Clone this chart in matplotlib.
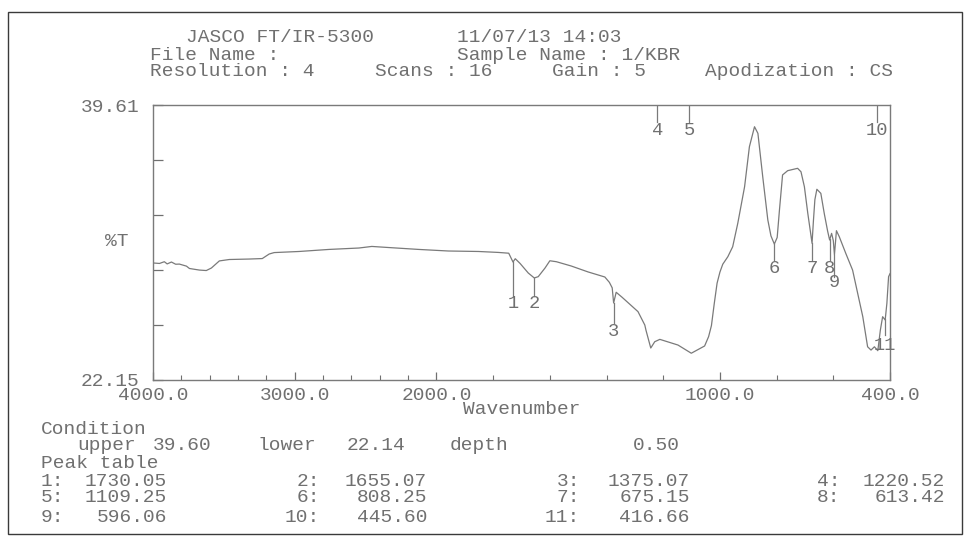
import numpy as np
import matplotlib.pyplot as plt
from matplotlib.patches import Rectangle

plt.rcParams['font.family'] = ['Liberation Mono', 'DejaVu Sans Mono']

# spectrum (cm-1, %T)
wavenumber = np.array([
    4000, 3954, 3920, 3900, 3870, 3840, 3814, 3764, 3743, 3673, 3624, 3588,
    3532, 3462, 3321, 3229, 3180, 3145, 2969, 2758, 2547, 2456, 2336, 2125,
    1958, 1852, 1782, 1745, 1730, 1722, 1705, 1676, 1655, 1641, 1617, 1600,
    1577, 1525, 1465, 1406, 1390, 1380, 1375, 1366, 1345, 1289, 1265, 1261,
    1244, 1230, 1212, 1148, 1101, 1054, 1040, 1030, 1020, 1010, 1000, 990,
    972, 955, 937, 913, 896, 878, 866, 849, 831, 820, 808, 798,
    790, 779, 761, 726, 714, 702, 690, 681, 675, 670, 665, 658,
    644, 632, 620, 613, 606, 600, 596, 589, 579, 556, 532, 514,
    496, 479, 467, 455, 443, 434, 426, 417, 411, 405, 400])
transmittance = np.array([
    29.58, 29.55, 29.66, 29.52, 29.64, 29.50, 29.51, 29.38, 29.23, 29.13, 29.10, 29.26,
    29.71, 29.80, 29.83, 29.86, 30.15, 30.24, 30.31, 30.44, 30.53, 30.63, 30.56, 30.44,
    30.34, 30.31, 30.25, 30.20, 29.64, 29.85, 29.55, 28.94, 28.63, 28.71, 29.26, 29.72,
    29.66, 29.39, 29.01, 28.69, 28.35, 28.00, 27.04, 27.72, 27.40, 26.49, 25.64, 25.32,
    24.18, 24.58, 24.73, 24.37, 23.85, 24.31, 24.90, 25.60, 27.00, 28.30, 29.00, 29.50,
    29.98, 30.61, 32.10, 34.42, 36.96, 38.23, 37.81, 35.06, 32.31, 31.30, 30.78, 31.20,
    32.94, 35.17, 35.44, 35.59, 35.37, 34.42, 32.73, 31.60, 30.83, 32.30, 33.60, 34.26,
    34.00, 32.73, 31.60, 31.04, 31.46, 31.00, 30.09, 31.63, 31.25, 30.19, 29.13, 27.65,
    26.17, 24.26, 24.05, 24.26, 24.01, 25.32, 26.17, 25.96, 27.02, 28.71, 28.90])

peak_no = [1, 2, 3, 4, 5, 6, 7, 8, 9, 10, 11]
peak_wn = [1730.05, 1655.07, 1375.07, 1220.52, 1109.25, 808.25,
           675.15, 613.42, 596.06, 445.60, 416.66]
top_peaks = [4, 5, 10]

y_top, y_bottom = 39.61, 22.15
upper, lower, depth = 39.60, 22.14, 0.50

header = [
    ('JASCO FT/IR-5300', 186, 37), ('11/07/13 14:03', 457, 37),
    ('File Name :', 150, 55), ('Sample Name : 1/KBR', 457, 55),
    ('Resolution : 4', 150, 72), ('Scans : 16', 375, 72),
    ('Gain : 5', 552, 72), ('Apodization : CS', 705, 72),
]

# where the peak numbers sit under each dip (line end, label centre), in %T
label_pos = {1: (27.48, 26.98), 2: (27.48, 26.98), 3: (25.77, 25.26),
             6: (29.77, 29.26), 7: (29.77, 29.26), 8: (29.77, 29.26),
             9: (28.69, 28.31), 11: (25.0, 24.37)}

ink = '#707070'
W, H = 964, 539


def fwd(x):
    x = np.asarray(x, dtype=float)
    return np.where(x > 2000, 2000 + (x - 2000) / 2, x)


def inv(u):
    u = np.asarray(u, dtype=float)
    return np.where(u > 2000, 2000 + (u - 2000) * 2, u)


def ftext(s, x, y, ha='left', size=14):
    fig.text(x / W, 1 - y / H, s, ha=ha, va='center', color=ink, fontsize=size)


fig = plt.figure(figsize=(W / 100, H / 100), dpi=100)
ax = fig.add_axes([153 / W, 1 - 380 / H, (890 - 153) / W, 275 / H])
ax.set_xscale('function', functions=(fwd, inv))
ax.plot(wavenumber, transmittance, color='#7a7a7a', lw=0.9)
ax.set_xlim(4000, 400)
ax.set_ylim(y_bottom, y_top)

ax.set_xticks([4000, 3000, 2000, 1000, 400])
ax.set_xticklabels(['4000.0', '3000.0', '2000.0', '1000.0', '400.0'])
ax.set_xticks([3800, 3600, 3400, 3200, 2800, 2600, 2400, 2200,
               1800, 1600, 1400, 1200, 800, 600], minor=True)
ax.set_yticks(np.linspace(y_bottom, y_top, 6))
ax.set_yticklabels(['22.15', '', '', '', '', '39.61'])
ax.tick_params(axis='x', which='major', direction='in', length=6, pad=5,
               labelsize=14, colors=ink, width=0.9)
ax.tick_params(axis='x', which='minor', direction='in', length=3.5,
               colors=ink, width=0.8)
ax.tick_params(axis='y', direction='in', length=7, pad=10,
               labelsize=14, colors=ink, width=0.9)
for sp in ax.spines.values():
    sp.set_color('#7a7a7a')
    sp.set_linewidth(1.0)

# peak marks
spec_x = wavenumber[::-1]
spec_y = transmittance[::-1]
for n, wn in zip(peak_no, peak_wn):
    if n in top_peaks:
        ax.plot([wn, wn], [y_top, 38.53], color='#7a7a7a', lw=0.9)
        ax.text(wn, 38.02, str(n), ha='center', va='center', color=ink, fontsize=13.5)
    else:
        t = np.interp(wn, spec_x, spec_y)
        end, lab = label_pos[n]
        ax.plot([wn, wn], [t, end], color='#7a7a7a', lw=0.9)
        ax.text(wn, lab, str(n), ha='center', va='center', color=ink, fontsize=13.5)

# header and axis texts
for s, x, y in header:
    ftext(s, x, y)
ftext('%T', 105, 241)
ftext('Wavenumber', 522, 410, ha='center')

# condition block
ftext('Condition', 41, 430)
ftext('upper', 77, 446)
ftext(f'{upper:.2f}', 212, 446, ha='right')
ftext('lower', 257, 446)
ftext(f'{lower:.2f}', 405, 446, ha='right')
ftext('depth', 450, 446)
ftext(f'{depth:.2f}', 680, 446, ha='right')

# peak table, four per row
ftext('Peak table', 41, 463)
label_x = [64, 320, 580, 840]
value_x = [167, 427, 690, 945]
row_y = [481, 498, 517]
for i, (n, wn) in enumerate(zip(peak_no, peak_wn)):
    r, c = divmod(i, 4)
    ftext(f'{n}:', label_x[c], row_y[r], ha='right')
    ftext(f'{wn:.2f}', value_x[c], row_y[r], ha='right')

fig.add_artist(Rectangle((8 / W, 1 - 534 / H), (962 - 8) / W, (534 - 12) / H,
                         transform=fig.transFigure, fill=False,
                         edgecolor='#3a3a3a', lw=1.0))

fig.savefig('out.png', dpi=100)
